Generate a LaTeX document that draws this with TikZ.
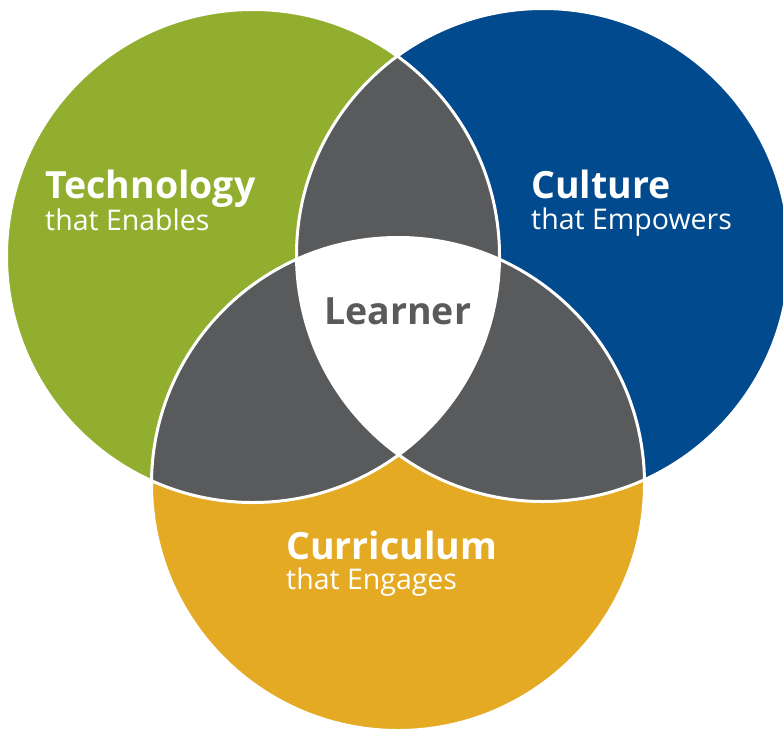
\documentclass[tikz,border=0pt]{standalone}
\usepackage{fontspec}
\setmainfont{Open Sans}
\definecolor{tgreen}{HTML}{92AE2E}
\definecolor{cblue}{HTML}{024A8E}
\definecolor{cyellow}{HTML}{E4AA24}
\definecolor{lgray}{HTML}{595A5C}
\tikzset{
  ring/.style={line width=3pt, draw=white},
  titletext/.style={anchor=base west, inner sep=0pt, text=white, font=\fontsize{37.5}{40}\selectfont\bfseries},
  subtext/.style={anchor=base west, inner sep=0pt, text=white, font=\fontsize{28.5}{30}\selectfont},
}
\begin{document}
\begin{tikzpicture}[x=1pt,y=-1pt]
\useasboundingbox (0,0) rectangle (783,731);
\clip (0,0) rectangle (783,731);
\def\R{246.5pt}
\coordinate (G) at (253,256);
\coordinate (B) at (543,255);
\coordinate (Y) at (398,484);
\fill[tgreen] (G) circle[radius=\R];
\fill[cblue] (B) circle[radius=\R];
\fill[cyellow] (Y) circle[radius=\R];
\begin{scope}
  \clip (G) circle[radius=\R];
  \fill[lgray] (B) circle[radius=\R];
  \fill[lgray] (Y) circle[radius=\R];
\end{scope}
\begin{scope}
  \clip (B) circle[radius=\R];
  \fill[lgray] (Y) circle[radius=\R];
\end{scope}
\begin{scope}
  \clip (G) circle[radius=\R];
  \clip (B) circle[radius=\R];
  \fill[white] (Y) circle[radius=\R];
\end{scope}
\draw[ring] (G) circle[radius=\R];
\draw[ring] (B) circle[radius=\R];
\draw[ring] (Y) circle[radius=\R];

\node[titletext] (tech) at (45,198) {Technology};
\node[subtext] (techsub) at (45,230) {that Enables};
\node[titletext] (cult) at (531,198) {Culture};
\node[subtext] (cultsub) at (531,229) {that Empowers};
\node[titletext] (curr) at (286,559) {Curriculum};
\node[subtext] (currsub) at (286,589) {that Engages};
\node[titletext, text=lgray] (learn) at (324,324) {Learner};
\end{tikzpicture}
\end{document}
